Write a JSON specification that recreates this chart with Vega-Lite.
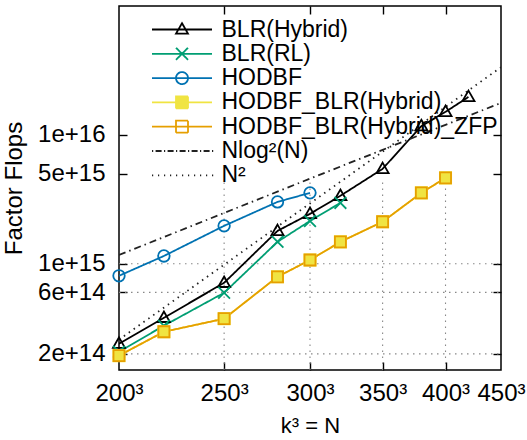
{
  "$schema": "https://vega.github.io/schema/vega-lite/v6.json",
  "width": 382,
  "height": 364,
  "autosize": {"type": "none"},
  "padding": {"left": 119, "top": 6, "right": 26, "bottom": 70},
  "background": "white",
  "config": {
    "font": "Liberation Sans",
    "view": {"stroke": "black", "strokeWidth": 1.5},
    "axis": {"domain": false, "labelFontSize": 24, "titleFontSize": 24, "labelColor": "black", "titleColor": "black", "titleFontWeight": "normal", "tickColor": "black", "tickWidth": 1.4, "tickSize": 8, "grid": false}
  },
  "datasets": {
    "series": [
      {"series": "BLR(Hybrid)", "k": 200, "v": 2.40e14},
      {"series": "BLR(Hybrid)", "k": 220, "v": 3.81e14},
      {"series": "BLR(Hybrid)", "k": 250, "v": 7.12e14},
      {"series": "BLR(Hybrid)", "k": 280, "v": 1.80e15},
      {"series": "BLR(Hybrid)", "k": 300, "v": 2.44e15},
      {"series": "BLR(Hybrid)", "k": 320, "v": 3.37e15},
      {"series": "BLR(Hybrid)", "k": 350, "v": 5.45e15},
      {"series": "BLR(Hybrid)", "k": 380, "v": 1.17e16},
      {"series": "BLR(Hybrid)", "k": 400, "v": 1.51e16},
      {"series": "BLR(Hybrid)", "k": 420, "v": 1.97e16},
      {"series": "BLR(RL)", "k": 200, "v": 2.08e14},
      {"series": "BLR(RL)", "k": 220, "v": 3.31e14},
      {"series": "BLR(RL)", "k": 250, "v": 5.96e14},
      {"series": "BLR(RL)", "k": 280, "v": 1.48e15},
      {"series": "BLR(RL)", "k": 300, "v": 2.15e15},
      {"series": "BLR(RL)", "k": 320, "v": 2.97e15},
      {"series": "HODBF", "k": 200, "v": 8.07e14},
      {"series": "HODBF", "k": 220, "v": 1.15e15},
      {"series": "HODBF", "k": 250, "v": 1.97e15},
      {"series": "HODBF", "k": 280, "v": 3.02e15},
      {"series": "HODBF", "k": 300, "v": 3.55e15},
      {"series": "HODBF_BLR(Hybrid)", "k": 200, "v": 1.94e14},
      {"series": "HODBF_BLR(Hybrid)", "k": 220, "v": 2.97e14},
      {"series": "HODBF_BLR(Hybrid)", "k": 250, "v": 3.75e14},
      {"series": "HODBF_BLR(Hybrid)", "k": 280, "v": 7.93e14},
      {"series": "HODBF_BLR(Hybrid)", "k": 300, "v": 1.07e15},
      {"series": "HODBF_BLR(Hybrid)", "k": 320, "v": 1.48e15},
      {"series": "HODBF_BLR(Hybrid)", "k": 350, "v": 2.12e15},
      {"series": "HODBF_BLR(Hybrid)", "k": 380, "v": 3.55e15},
      {"series": "HODBF_BLR(Hybrid)", "k": 400, "v": 4.64e15},
      {"series": "HODBF_BLR(Hybrid)_ZFP", "k": 200, "v": 1.94e14},
      {"series": "HODBF_BLR(Hybrid)_ZFP", "k": 220, "v": 2.97e14},
      {"series": "HODBF_BLR(Hybrid)_ZFP", "k": 250, "v": 3.75e14},
      {"series": "HODBF_BLR(Hybrid)_ZFP", "k": 280, "v": 7.93e14},
      {"series": "HODBF_BLR(Hybrid)_ZFP", "k": 300, "v": 1.07e15},
      {"series": "HODBF_BLR(Hybrid)_ZFP", "k": 320, "v": 1.48e15},
      {"series": "HODBF_BLR(Hybrid)_ZFP", "k": 350, "v": 2.12e15},
      {"series": "HODBF_BLR(Hybrid)_ZFP", "k": 380, "v": 3.55e15},
      {"series": "HODBF_BLR(Hybrid)_ZFP", "k": 400, "v": 4.64e15},
      {"series": "Nlog²(N)", "k": 200, "v": 1.17e15},
      {"series": "Nlog²(N)", "k": 250, "v": 2.48e15},
      {"series": "Nlog²(N)", "k": 300, "v": 4.58e15},
      {"series": "Nlog²(N)", "k": 350, "v": 7.66e15},
      {"series": "Nlog²(N)", "k": 400, "v": 1.197e16},
      {"series": "Nlog²(N)", "k": 450, "v": 1.77e16},
      {"series": "N²", "k": 200, "v": 2.58e14},
      {"series": "N²", "k": 250, "v": 9.84e14},
      {"series": "N²", "k": 300, "v": 2.94e15},
      {"series": "N²", "k": 350, "v": 7.41e15},
      {"series": "N²", "k": 400, "v": 1.65e16},
      {"series": "N²", "k": 450, "v": 3.35e16}
    ],
    "gridx": [{"k": 250}, {"k": 300}, {"k": 350}, {"k": 400}],
    "gridy": [{"v": 2e14}, {"v": 6e14}, {"v": 1e15}]
  },
  "resolve": {"axis": {"x": "independent", "y": "independent"}},
  "layer": [
    {
      "data": {"name": "gridx"},
      "mark": {"type": "rule", "stroke": "#888888", "strokeWidth": 1.1, "strokeDash": [1.5, 4.5]},
      "encoding": {
        "x": {"field": "k", "type": "quantitative", "scale": {"type": "log", "domain": [200, 450], "nice": false, "zero": false},
              "axis": {"orient": "top", "values": [250, 300, 350, 400], "labels": false, "title": null, "offset": -8}},
        "y": {"datum": 1.5e14, "type": "quantitative", "scale": {"type": "log", "domain": [1.5e14, 1e17], "nice": false, "zero": false},
              "axis": {"orient": "right", "values": [2e14, 6e14, 1e15, 5e15, 1e16], "labels": false, "title": null, "offset": -8}},
        "y2": {"datum": 4.3e15}
      }
    },
    {
      "data": {"name": "gridy"},
      "mark": {"type": "rule", "stroke": "#888888", "strokeWidth": 1.1, "strokeDash": [1.5, 4.5]},
      "encoding": {
        "y": {"field": "v", "type": "quantitative", "axis": null},
        "x": {"datum": 200, "type": "quantitative", "axis": null},
        "x2": {"datum": 450}
      }
    },
    {
      "data": {"name": "series"},
      "mark": {"type": "line", "clip": true},
      "encoding": {
        "x": {"field": "k", "type": "quantitative",
              "axis": {"orient": "bottom", "values": [200, 250, 300, 350, 400, 450], "labelExpr": "datum.value + '³'", "labelFlush": false, "labelOverlap": false, "ticks": false, "labelPadding": 11, "title": "k³ = N", "titleFontSize": 22, "titlePadding": 10}},
        "y": {"field": "v", "type": "quantitative",
              "axis": {"orient": "left", "values": [2e14, 6e14, 1e15, 5e15, 1e16], "format": ".0e", "labelFlush": false, "labelOverlap": false, "ticks": false, "labelPadding": 14, "title": "Factor Flops", "titlePadding": 11}},
        "stroke": {"field": "series", "type": "nominal",
          "scale": {"domain": ["BLR(Hybrid)", "BLR(RL)", "HODBF", "HODBF_BLR(Hybrid)", "HODBF_BLR(Hybrid)_ZFP", "Nlog²(N)", "N²"],
                    "range": ["#000000", "#009e73", "#0072b2", "#f0e442", "#e69f00", "#222222", "#222222"]},
          "legend": {
            "orient": "none", "legendX": 27.5, "legendY": 12, "title": null,
            "labelFontSize": 23, "labelColor": "black", "labelOffset": 52, "labelLimit": 500,
            "symbolSize": 144, "symbolStrokeWidth": 1.6, "rowPadding": 0.3, "padding": 0,
            "encode": {"symbols": {"update": {
              "shape": {"signal": "datum.value === 'BLR(Hybrid)' ? 'M-1,0H9M4,-1.05L5,0.7L3,0.7Z' : datum.value === 'BLR(RL)' ? 'M-1,0H9M3,-1L5,1M5,-1L3,1' : datum.value === 'HODBF' ? 'M-1,0H9M5,0A1,1,0,1,1,3,0A1,1,0,1,1,5,0' : datum.value === 'HODBF_BLR(Hybrid)' ? 'M-1,0H9M3,-1H5V1H3Z' : datum.value === 'HODBF_BLR(Hybrid)_ZFP' ? 'M-1,0H9M3,-1H5V1H3Z' : datum.value === 'Nlog²(N)' ? 'M-1,0H-0.8M-0.4,0H0.6M1,0H1.2M1.6,0H2.6M3,0H3.2M3.6,0H4.6M5,0H5.2M5.6,0H6.6M7,0H7.2M7.6,0H8.6M9,0H9.2' : 'M-1,0H-0.8M0,0H0.2M1,0H1.2M2,0H2.2M3,0H3.2M4,0H4.2M5,0H5.2M6,0H6.2M7,0H7.2M8,0H8.2M9,0H9.2'"},
              "fill": {"signal": "datum.value === 'HODBF_BLR(Hybrid)' ? '#f0e442' : 'transparent'"},
              "opacity": {"value": 1}
            }}}
          }},
        "strokeDash": {"field": "series", "type": "nominal", "legend": null,
          "scale": {"domain": ["BLR(Hybrid)", "BLR(RL)", "HODBF", "HODBF_BLR(Hybrid)", "HODBF_BLR(Hybrid)_ZFP", "Nlog²(N)", "N²"],
                    "range": [[1, 0], [1, 0], [1, 0], [1, 0], [1, 0], [7, 4, 1.5, 4], [1.5, 4.5]]}},
        "strokeWidth": {"field": "series", "type": "nominal", "legend": null,
          "scale": {"domain": ["BLR(Hybrid)", "BLR(RL)", "HODBF", "HODBF_BLR(Hybrid)", "HODBF_BLR(Hybrid)_ZFP", "Nlog²(N)", "N²"],
                    "range": [1.8, 1.8, 1.8, 1.8, 1.8, 1.3, 1.3]}},
        "order": {"field": "k", "type": "quantitative"}
      }
    },
    {
      "data": {"name": "series"},
      "transform": [{"filter": "datum.series !== 'Nlog²(N)' && datum.series !== 'N²'"}],
      "mark": {"type": "point", "strokeWidth": 1.8, "opacity": 1},
      "encoding": {
        "x": {"field": "k", "type": "quantitative",
              "axis": {"orient": "bottom", "values": [250, 300, 350, 400], "labels": false, "title": null, "offset": -8}},
        "y": {"field": "v", "type": "quantitative",
              "axis": {"orient": "left", "values": [2e14, 6e14, 1e15, 5e15, 1e16], "labels": false, "title": null, "offset": -8}},
        "stroke": {"field": "series", "type": "nominal"},
        "fill": {"field": "series", "type": "nominal", "legend": null,
          "scale": {"domain": ["BLR(Hybrid)", "BLR(RL)", "HODBF", "HODBF_BLR(Hybrid)", "HODBF_BLR(Hybrid)_ZFP"],
                    "range": ["transparent", "transparent", "transparent", "#f0e442", "transparent"]}},
        "shape": {"field": "series", "type": "nominal", "legend": null,
          "scale": {"domain": ["BLR(Hybrid)", "BLR(RL)", "HODBF", "HODBF_BLR(Hybrid)", "HODBF_BLR(Hybrid)_ZFP"],
                    "range": ["M0,-1.05L1,0.7L-1,0.7Z", "M-1,-1L1,1M1,-1L-1,1", "circle", "square", "square"]}},
        "size": {"field": "series", "type": "nominal", "legend": null,
          "scale": {"domain": ["BLR(Hybrid)", "BLR(RL)", "HODBF", "HODBF_BLR(Hybrid)", "HODBF_BLR(Hybrid)_ZFP"],
                    "range": [144, 121, 133, 175, 175]}}
      }
    }
  ]
}
